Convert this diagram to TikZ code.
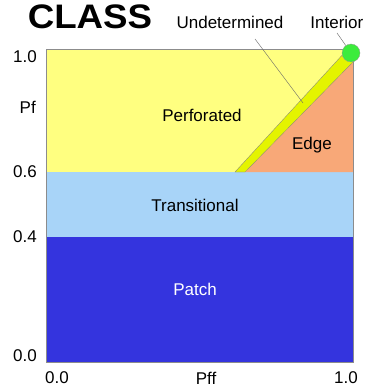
\documentclass[tikz,border=0pt]{standalone}
\usepackage{fontspec}
\setmainfont{Liberation Sans}
\begin{document}
\begin{tikzpicture}[x=1pt,y=-1pt,
  lbl/.style={font=\fontsize{17}{19}\selectfont, inner sep=0pt},
  leader/.style={draw=black!60, line width=0.4pt}]
\definecolor{cYellow}{HTML}{FFFF80}
\definecolor{cLBlue}{HTML}{A8D4F8}
\definecolor{cBlue}{HTML}{3434DE}
\definecolor{cOrange}{HTML}{F8A878}
\definecolor{cBand}{HTML}{E4F400}
\definecolor{cGreen}{HTML}{3CEC3C}
\useasboundingbox (0,0) rectangle (364,387);
% regions
\fill[cBlue] (46,237) rectangle (353,362);
\fill[cLBlue] (46,172) rectangle (353,237);
\fill[cYellow] (46,49) rectangle (353,172);
\fill[cOrange] (245,172) -- (353,62) -- (353,172) -- cycle;
\fill[cBand, draw=black!50, line width=0.3pt] (235,172) -- (345,52) -- (353,58) -- (353,62) -- (245,172) -- cycle;
\draw[black!45, line width=0.5pt] (46,49) rectangle (353,362);
\node[circle, fill=cGreen, draw=black!40, line width=0.3pt, minimum size=18pt, inner sep=0pt] (interiorpt) at (351,53) {};
% title
\node[font=\fontsize{34}{36}\selectfont\bfseries, inner sep=0pt, xscale=1.08] (title) at (90,17) {CLASS};
\node[lbl] (undet) at (230,22) {Undetermined};
\node[lbl, anchor=east] (interior) at (363.5,22) {Interior};
\coordinate (undetend) at (303,103);
\draw[leader] (255,39) -- (undetend);
\draw[leader] (337,33) -- (interiorpt);
% region labels
\node[lbl] (perf) at (202,115) {Perforated};
\node[lbl] (edge) at (312,145) {Edge};
\node[lbl] (trans) at (195,205) {Transitional};
\node[lbl, text=white] (patch) at (195,289) {Patch};
% axis labels
\node[lbl, anchor=east] (y10) at (37,57) {1.0};
\node[lbl, anchor=east] (ypf) at (36,107) {Pf};
\node[lbl, anchor=east] (y06) at (37,172) {0.6};
\node[lbl, anchor=east] (y04) at (37,237) {0.4};
\node[lbl, anchor=east] (y00) at (37,356) {0.0};
\node[lbl] (x00) at (57,378) {0.0};
\node[lbl] (xpff) at (206,378) {Pff};
\node[lbl] (x10) at (346,378) {1.0};
\end{tikzpicture}
\end{document}
